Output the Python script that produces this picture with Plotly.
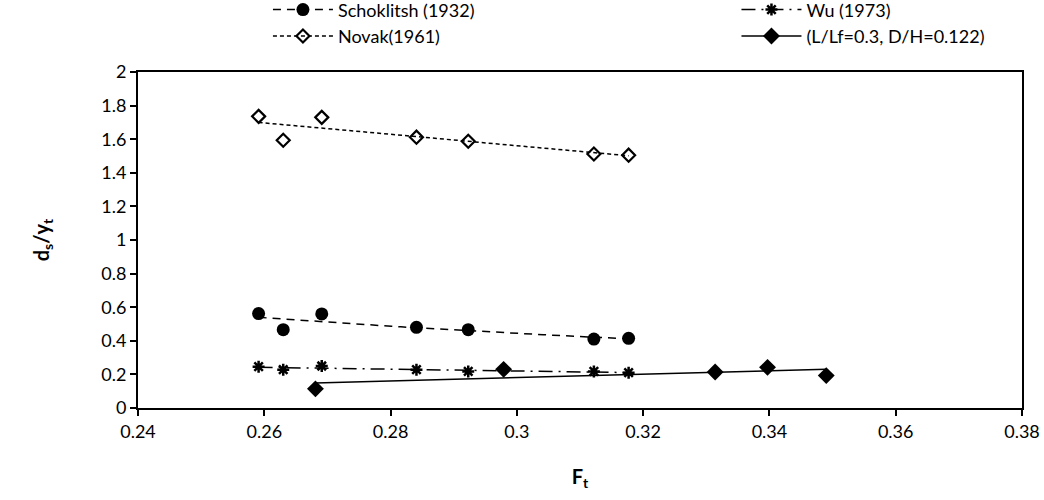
import numpy as np
import plotly.graph_objects as go

# ---- data ----
x_main = [0.2591, 0.2630, 0.2691, 0.2841, 0.2923, 0.3122, 0.3177]
y_schoklitsh = [0.562, 0.466, 0.560, 0.480, 0.466, 0.410, 0.415]
y_novak = [1.736, 1.594, 1.730, 1.612, 1.588, 1.512, 1.505]
y_wu = [0.246, 0.228, 0.250, 0.228, 0.218, 0.218, 0.210]
x_lf = [0.2681, 0.2979, 0.3314, 0.3397, 0.3490]
y_lf = [0.114, 0.230, 0.214, 0.242, 0.193]

names = ["Schoklitsh (1932)", "Wu (1973)", "Novak(1961)", "(L/Lf=0.3, D/H=0.122)"]
x_ticks = [0.24, 0.26, 0.28, 0.30, 0.32, 0.34, 0.36, 0.38]
x_tick_text = ["0.24", "0.26", "0.28", "0.3", "0.32", "0.34", "0.36", "0.38"]
y_ticks = [0, 0.2, 0.4, 0.6, 0.8, 1.0, 1.2, 1.4, 1.6, 1.8, 2.0]
y_tick_text = ["0", "0.2", "0.4", "0.6", "0.8", "1", "1.2", "1.4", "1.6", "1.8", "2"]

FONT = "Lato"


def lin_trend(x, y):
    x = np.asarray(x); y = np.asarray(y)
    c = np.polyfit(x, y, 1)
    xs = np.linspace(x.min(), x.max(), 40)
    return xs, np.polyval(c, xs)


def pow_trend(x, y):
    x = np.asarray(x); y = np.asarray(y)
    c = np.polyfit(np.log(x), np.log(y), 1)
    xs = np.linspace(x.min(), x.max(), 40)
    return xs, np.exp(np.polyval(c, np.log(xs)))


series = [
    dict(name=names[0], x=x_main, y=y_schoklitsh, trend=pow_trend, legend="legend",
         marker=dict(symbol="circle", size=13, color="black"),
         line=dict(color="black", width=1.5, dash="8px,6px")),
    dict(name=names[2], x=x_main, y=y_novak, trend=lin_trend, legend="legend",
         marker=dict(symbol="diamond-open", size=10, color="black", line=dict(width=2.2, color="black")),
         line=dict(color="black", width=1.5, dash="4px,3px")),
    dict(name=names[1], x=x_main, y=y_wu, trend=lin_trend, legend="legend2",
         marker=dict(symbol="asterisk-open", size=10, color="black", line=dict(width=2.5, color="black")),
         line=dict(color="black", width=1.5, dash="14px,6px,2px,6px")),
    dict(name=names[3], x=x_lf, y=y_lf, trend=lin_trend, legend="legend2",
         marker=dict(symbol="diamond", size=13, color="black"),
         line=dict(color="black", width=1.5)),
]

fig = go.Figure()
for s in series:
    tx, ty = s["trend"](s["x"], s["y"])
    fig.add_trace(go.Scatter(x=tx, y=ty, mode="lines", line=s["line"],
                             showlegend=False, hoverinfo="skip"))
    fig.add_trace(go.Scatter(x=s["x"], y=s["y"], mode="markers", marker=s["marker"],
                             showlegend=False))
    # legend entry
    fig.add_trace(go.Scatter(x=[None], y=[None], mode="lines+markers", name=s["name"],
                             marker=s["marker"], line=s["line"], showlegend=True,
                             legend=s["legend"]))

axis_common = dict(showgrid=False, zeroline=False, showline=True, linecolor="black",
                   linewidth=2, mirror=True, ticks="outside", ticklen=6, tickwidth=2,
                   tickcolor="black", tickfont=dict(family=FONT, size=18, color="black"))

fig.update_xaxes(range=[0.24, 0.38], tickvals=x_ticks, ticktext=x_tick_text,
                 title=dict(text="<b>F<sub>t</sub></b>", font=dict(family=FONT, size=20, color="black"),
                            standoff=29),
                 **axis_common)
fig.update_yaxes(range=[0, 2], tickvals=y_ticks, ticktext=y_tick_text,
                 title=dict(text="<b>d<sub>s</sub>/y<sub>t</sub></b>", font=dict(family=FONT, size=20, color="black"),
                            standoff=46),
                 **axis_common)

legend_common = dict(orientation="v", yanchor="top", y=1.24, xanchor="left",
                     font=dict(family=FONT, size=18, color="black"),
                     itemwidth=60, tracegroupgap=0, bgcolor="rgba(0,0,0,0)",
                     traceorder="normal")

fig.update_layout(
    width=1044, height=500,
    margin=dict(l=138, r=22, t=72, b=92, autoexpand=False),
    paper_bgcolor="white", plot_bgcolor="white",
    font=dict(family=FONT, color="black"),
    legend=dict(x=0.147, **legend_common),
    legend2=dict(x=0.677, **legend_common),
)

fig.write_html("out.html")
